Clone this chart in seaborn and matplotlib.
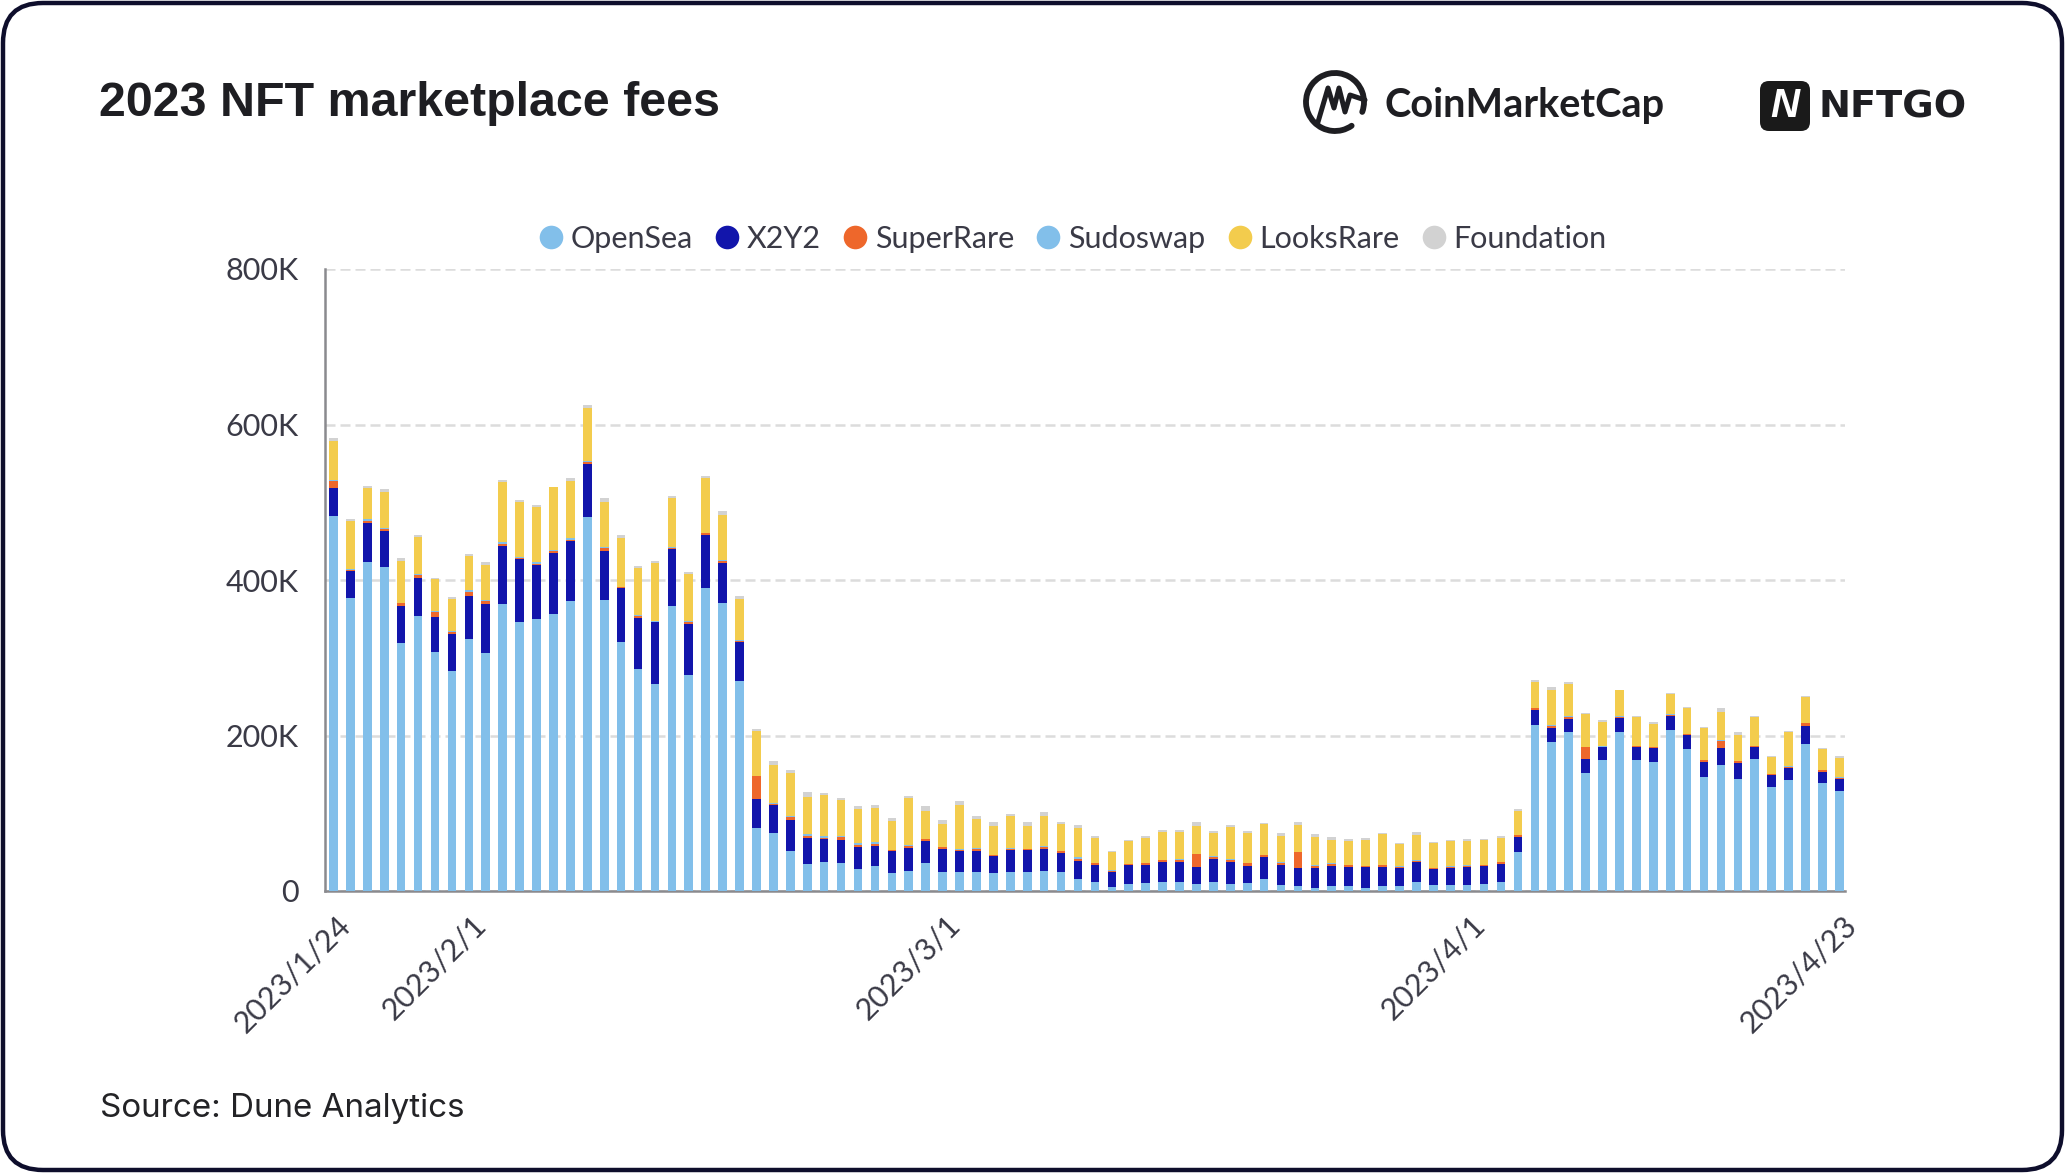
import matplotlib
matplotlib.use("Agg")
import matplotlib.pyplot as plt
import matplotlib.transforms as mtrans
from matplotlib.lines import Line2D
from matplotlib.patches import Arc, FancyBboxPatch
import numpy as np
import pandas as pd
import seaborn as sns

# daily fees in thousands of USD
opensea = [482.3, 376.9, 423.2, 416.3, 319.1, 354.2, 308.0, 282.7, 324.6, 306.2,
           368.8, 346.1, 349.9, 355.9, 372.6, 481.0, 374.3, 320.4, 285.2, 266.8,
           367.0, 278.4, 389.3, 370.0, 269.8, 81.0, 74.1, 51.4, 34.7, 37.3,
           36.0, 28.7, 31.7, 23.1, 26.1, 36.0, 24.4, 24.4, 24.4, 23.1,
           24.4, 24.4, 26.1, 24.4, 15.8, 12.0, 5.1, 9.0, 10.3, 12.0,
           12.0, 9.0, 12.0, 9.0, 9.9, 15.4, 7.3, 6.0, 4.3, 6.0,
           6.0, 4.3, 6.0, 6.0, 11.6, 7.3, 7.3, 7.3, 9.0, 11.6,
           49.7, 212.9, 191.9, 204.3, 151.2, 167.9, 204.3, 167.9, 165.3, 207.3,
           182.5, 146.9, 162.3, 143.9, 169.2, 134.1, 142.2, 189.7, 138.3, 128.5]
x2y2 = [36.4, 34.3, 50.1, 46.3, 47.5, 48.0, 44.1, 47.5, 54.8, 63.0,
        75.4, 81.4, 69.0, 78.8, 77.5, 68.5, 62.5, 69.0, 66.0, 78.8,
        72.8, 65.5, 69.0, 51.4, 50.5, 36.8, 36.8, 39.4, 33.4, 29.6,
        29.6, 27.8, 26.1, 28.3, 29.6, 27.8, 29.6, 27.0, 27.0, 21.4,
        28.7, 28.7, 27.8, 24.4, 22.7, 21.0, 19.3, 24.4, 22.7, 25.3,
        25.3, 22.3, 29.1, 28.3, 22.7, 27.8, 26.6, 23.6, 25.3, 26.6,
        25.3, 27.0, 25.3, 23.6, 25.3, 21.0, 22.3, 24.0, 23.6, 23.6,
        19.3, 19.3, 18.0, 16.7, 18.0, 16.7, 18.0, 16.7, 18.0, 18.0,
        17.6, 19.3, 21.0, 21.0, 15.4, 15.4, 15.4, 23.1, 15.0, 15.4]
superrare = [8.6, 2.1, 3.0, 3.0, 3.4, 3.9, 6.4, 3.0, 5.6, 3.4,
             2.6, 0.9, 1.7, 2.6, 1.7, 1.7, 4.7, 1.7, 3.0, 0.9,
             1.7, 2.1, 1.7, 3.0, 1.7, 29.6, 1.3, 4.7, 3.0, 1.3,
             4.3, 3.0, 3.0, 0.9, 2.6, 3.0, 2.1, 1.7, 3.0, 1.3,
             1.3, 0.9, 3.0, 2.6, 3.0, 3.0, 1.7, 1.3, 3.0, 2.6,
             3.0, 15.8, 3.0, 3.0, 3.4, 2.6, 2.1, 20.1, 3.0, 2.6,
             1.7, 0.9, 1.7, 1.7, 2.1, 1.3, 1.7, 1.3, 0.9, 1.7,
             2.6, 3.4, 2.1, 3.0, 15.4, 0.9, 2.1, 1.3, 1.3, 1.7,
             1.3, 2.1, 9.9, 1.7, 1.3, 0.9, 1.7, 3.0, 1.7, 1.7]
sudoswap = [1.3, 0.4, 1.7, 0.9, 0.9, 1.3, 1.3, 1.3, 2.1, 1.3,
            2.6, 0.9, 2.1, 0.9, 2.1, 1.3, 0.9, 0.4, 0.4, 0.4,
            0.4, 0.9, 0.9, 1.3, 0.4, 0.4, 0.4, 0.4, 1.7, 2.1,
            0.4, 2.1, 1.7, 0.4, 0.4, 0.4, 0.9, 0.9, 0.4, 0.4,
            0.4, 0.4, 0.4, 0.4, 1.7, 0.4, 0.4, 0.4, 0.4, 0.4,
            0.4, 0.4, 0.4, 0.4, 0.4, 0.9, 0.9, 0.4, 0.4, 1.3,
            0.4, 0.4, 0.4, 0.4, 1.3, 0.4, 1.3, 0.4, 0.4, 0.4,
            0.9, 0.4, 1.3, 0.9, 0.4, 0.4, 0.4, 0.4, 0.4, 0.4,
            0.4, 0.4, 0.9, 0.9, 0.4, 0.4, 0.9, 0.4, 0.4, 0.4]
looksrare = [50.5, 62.1, 39.8, 46.3, 54.0, 48.4, 41.1, 40.7, 44.1, 45.4,
             76.2, 71.5, 70.7, 80.9, 73.7, 68.5, 58.2, 62.1, 60.4, 74.5,
             64.2, 60.8, 70.2, 57.8, 53.1, 57.4, 50.1, 55.7, 47.5, 52.7,
             46.3, 43.3, 43.7, 36.8, 60.4, 35.1, 29.6, 56.5, 37.7, 37.7,
             41.5, 29.6, 39.0, 34.7, 38.1, 31.7, 23.6, 29.1, 32.1, 35.1,
             34.7, 36.0, 29.6, 41.1, 38.5, 39.4, 33.8, 35.1, 36.8, 29.6,
             31.3, 33.0, 40.3, 28.3, 32.1, 31.3, 32.1, 31.7, 31.7, 30.8,
             30.8, 32.6, 45.8, 41.1, 42.4, 32.1, 33.4, 38.1, 29.6, 26.6,
             33.8, 41.5, 36.4, 33.4, 38.1, 21.8, 44.5, 33.4, 27.0, 25.7]
foundation = [3.4, 3.0, 3.4, 4.3, 3.0, 2.6, 2.1, 3.0, 2.6, 3.4,
              3.4, 2.6, 3.4, 0.9, 3.0, 4.3, 4.7, 3.9, 3.4, 3.4,
              1.3, 3.0, 3.0, 5.6, 3.4, 3.4, 3.9, 3.4, 6.4, 3.0,
              3.4, 4.3, 3.9, 3.9, 3.4, 6.4, 5.1, 5.1, 3.9, 4.3,
              3.0, 4.3, 5.1, 2.6, 3.0, 2.6, 1.3, 1.3, 2.6, 2.6,
              3.4, 4.7, 3.0, 3.4, 2.6, 1.3, 3.4, 3.9, 3.4, 3.0,
              1.7, 2.1, 1.3, 2.1, 3.9, 1.3, 1.3, 1.7, 1.3, 2.6,
              2.1, 2.6, 3.9, 2.6, 1.3, 1.7, 0.9, 1.3, 2.6, 0.9,
              0.9, 1.3, 4.7, 3.0, 1.3, 0.9, 1.3, 1.3, 1.7, 1.7]

platforms = ["OpenSea", "X2Y2", "SuperRare", "Sudoswap", "LooksRare", "Foundation"]
colors = ["#82BFEA", "#1215AB", "#EE672B", "#82BFEA", "#F3CC4D", "#D2D2D2"]
series = [opensea, x2y2, superrare, sudoswap, looksrare, foundation]

y_ticks = [0, 200, 400, 600, 800]
y_labels = ["0", "200K", "400K", "600K", "800K"]
x_labels = ["2023/1/24", "2023/2/1", "2023/3/1", "2023/4/1", "2023/4/23"]

TEXT = "#3A3A46"
AXIS = "#8A8A8E"
NAVY = "#0E0E2C"

days = [f"{d.year}/{d.month}/{d.day}" for d in pd.date_range("2023-01-24", "2023-04-23")]

sns.set_theme(style="white")
plt.rcParams["font.family"] = ["Lato", "DejaVu Sans"]

fig = plt.figure(figsize=(20.65, 11.73), dpi=100, facecolor="white")

# backdrop in pixel coordinates for the card, header and logos
bg = fig.add_axes([0, 0, 1, 1], zorder=0)
bg.set_xlim(0, 2065)
bg.set_ylim(1173, 0)
bg.axis("off")
bg.add_patch(FancyBboxPatch((3, 3), 2059, 1167, boxstyle="round,pad=0,rounding_size=40",
                            fc="white", ec=NAVY, lw=3.2))

bg.text(99, 116, "2023 NFT marketplace fees", fontsize=34.8, fontweight="bold",
        family="Liberation Sans", color="#1E1E22", va="baseline")
bg.text(100, 1117, "Source: Dune Analytics", fontsize=23.9, family="Inter",
        color="#232326", va="baseline")

# CoinMarketCap mark
bg.add_patch(Arc((1335, 102), 58, 58, theta1=55, theta2=20, lw=4.2, color="#1E1E22", capstyle="round"))
bg.plot([1318, 1328, 1334, 1339, 1345, 1350, 1365],
        [122, 88, 108, 88, 112, 95, 100], color="#1E1E22", lw=3.6, solid_capstyle="round")
bg.text(1384, 117, "CoinMarketCap", fontsize=28.6, fontweight="bold", color="#1E1E22", va="baseline")

# NFTGO mark
bg.add_patch(FancyBboxPatch((1760, 81), 50, 50, boxstyle="round,pad=0,rounding_size=9", fc="#1A1A1A", ec="none"))
bg.text(1785, 106, "N", fontsize=29, fontweight="bold", fontstyle="italic", family="Liberation Sans",
        color="white", ha="center", va="center")
bg.text(1818, 117, "NFTGO", fontsize=27.5, fontweight="bold", family="DejaVu Sans",
        color="#1E1E22", va="baseline")

ax = fig.add_axes([325 / 2065, (1173 - 891) / 1173, 1520 / 2065, 622 / 1173], zorder=1)
ax.patch.set_alpha(0)

bottom = np.zeros(len(days))
for name, values, color in zip(platforms, series, colors):
    sns.barplot(x=days, y=values, bottom=bottom, color=color, width=0.51, saturation=1,
                linewidth=0, ax=ax, errorbar=None, zorder=3)
    bottom = bottom + np.array(values)

ax.set_xlim(-0.5, 89.33)
ax.set_ylim(0, 800)
ax.set_xlabel("")
ax.set_ylabel("")
ax.set_axisbelow(True)
ax.yaxis.grid(True, color="#DCDCDC", lw=1.8, linestyle=(0, (4, 2)))
ax.xaxis.grid(False)

sns.despine(ax=ax)
for side in ["left", "bottom"]:
    ax.spines[side].set_color(AXIS)
    ax.spines[side].set_linewidth(1.8)

ax.set_yticks(y_ticks, y_labels)
ax.tick_params(axis="y", length=11.5, width=1.5, color="#555558", pad=7.5, labelsize=22, labelcolor=TEXT)

ax.set_xticks([days.index(d) for d in x_labels], x_labels)
ax.tick_params(axis="x", length=0, pad=14, labelsize=22, labelcolor=TEXT)
shift = mtrans.ScaledTranslation(3 / 100, 0, fig.dpi_scale_trans)
for label in ax.get_xticklabels():
    label.set_rotation(45)
    label.set_ha("right")
    label.set_rotation_mode("anchor")
    label.set_transform(label.get_transform() + shift)

handles = [Line2D([], [], marker="o", ls="", ms=17, mfc=c, mec="none") for c in colors]
leg = ax.legend(handles, platforms, ncol=6, loc="center", bbox_to_anchor=(1071 / 2065, 1 - 239 / 1173),
                bbox_transform=fig.transFigure, frameon=False, fontsize=22, handlelength=1,
                handletextpad=0.15, columnspacing=0.62, labelcolor=TEXT)

fig.savefig("out.png", dpi=100)
